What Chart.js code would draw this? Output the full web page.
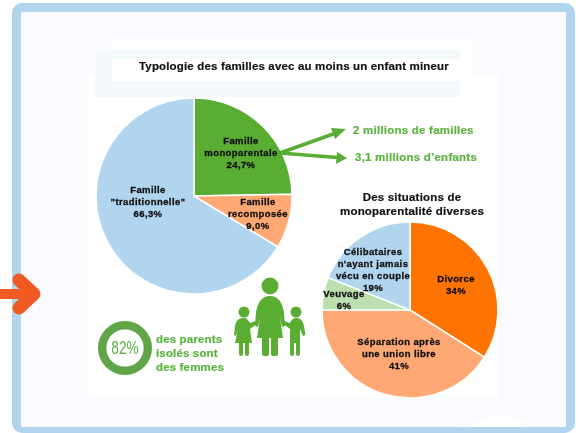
<!DOCTYPE html>
<html lang="fr">
<head>
<meta charset="utf-8">
<title>Typologie des familles</title>
<script src="https://cdn.jsdelivr.net/npm/chart.js@4"></script>
<style>
  html, body { margin: 0; padding: 0; background: #fff; }
  body { position: relative; width: 579px; height: 433px; overflow: hidden; font-family: "Liberation Sans", Arial, sans-serif; }
  #page { position: absolute; left: 0; top: 0; width: 579px; height: 433px; filter: blur(.4px); }
  .box { position: absolute; }
  #frame { left: 12px; top: 3px; width: 545px; height: 415px; border: 9px solid #b1d5ef; border-bottom-width: 6px; border-radius: 10px; background: #fafaff; }
  canvas { position: absolute; }
  #familyPie { left: 89px; top: 91px; }
  #situationPie { left: 314.5px; top: 214.5px; }
  svg { position: absolute; left: 0; top: 0; }
  .txt { position: absolute; font-weight: bold; white-space: nowrap; -webkit-text-stroke: .2px currentColor; }
  .green { color: #5ab33e; font-size: 11.5px; letter-spacing: .23px; }
  .head { color: #111; font-size: 11.5px; text-align: center; letter-spacing: .2px; }
</style>
</head>
<body>
<div id="page">
<div class="box" id="frame"></div>
<div class="box" style="left:88px;top:75px;width:410px;height:323px;background:#fff"></div>
<div class="box" style="left:113px;top:37px;width:360px;height:38px;background:#fff"></div>
<div class="box" style="left:95px;top:50px;width:365px;height:47px;background:#f4fafb"></div>
<div class="box" style="left:112px;top:59px;width:349px;height:22px;background:#fff"></div>

<canvas id="familyPie" width="210" height="210"></canvas>
<canvas id="situationPie" width="190" height="190"></canvas>

<svg width="579" height="433" viewBox="0 0 579 433">
  <!-- flèche orange à gauche -->
  <path d="M0 294H32" fill="none" stroke="#f15a22" stroke-width="10"/>
  <path d="M19 280L34 294L19 308" fill="none" stroke="#f15a22" stroke-width="13" stroke-linecap="round" stroke-linejoin="round"/>
  <!-- reflet en bas à droite -->
  <path d="M460 427Q490 415 500 415Q515 415 530 427Z" fill="#fff"/>
  <!-- flèches vertes -->
  <g stroke="#5aad33" stroke-width="3.5" fill="#5aad33">
    <line x1="280" y1="153" x2="336" y2="133"/>
    <line x1="280" y1="153" x2="337" y2="157.500"/>
    <polygon stroke="none" points="346,129 335,139 331,128"/>
    <polygon stroke="none" points="347,158 336,164 337,152"/>
  </g>
  <!-- anneau 82% -->
  <circle cx="125" cy="348" r="23" fill="#fff" stroke="#5fa646" stroke-width="8"/>
  <circle cx="125" cy="348" r="19" fill="none" stroke="#3f7d2c" stroke-width="1" opacity=".5"/>
  <!-- mère et enfants -->
  <g fill="#5aad33">
    <circle cx="270" cy="286" r="8.5"/>
    <path d="M270 296C262 296 258 302 256 312L255 326L258 327L260 318L257 338H262V354Q262 356 265.500 356Q269 356 269 354V338H271V354Q271 356 274.500 356Q278 356 278 354V338H283L280 318L282 327L285 326L284 312C282 302 278 296 270 296Z"/>
    <circle cx="244" cy="312" r="5.500"/>
    <path d="M244 318C239 318 236 320 235 326L234 335L236 336L238 329L235 343H239V354Q239 356 241 356Q243 356 243 354V343H245V354Q245 356 247 356Q249 356 249 354V343H252L250 329L258 323L256 321L250 323C248 320 247 318 244 318Z"/>
    <circle cx="296" cy="312" r="5.500"/>
    <path d="M296 318C293 318 291 320 290 323L284 321L282 323L290 329V354Q290 356 292 356Q294 356 294 354V343H296V354Q296 356 298 356Q300 356 300 354V329L303 336L305.500 335L304 326C303 320 300 318 296 318Z"/>
  </g>
</svg>

<div class="txt" style="left:139px;top:58.500px;font-size:11.5px;color:#111;line-height:14px;letter-spacing:.16px">Typologie des familles avec au moins un enfant mineur</div>
<div class="txt green" style="left:353px;top:124px">2 millions de familles</div>
<div class="txt green" style="left:355px;top:151px">3,1 millions d’enfants</div>
<div class="txt head" style="left:340px;top:190px;width:144px;line-height:14px">Des situations de<br>monoparentalité diverses</div>
<div class="txt green" style="left:156px;top:332px;line-height:14px;letter-spacing:.15px">des parents<br>isolés sont<br>des femmes</div>
<div class="txt" style="left:105px;top:338px;width:40px;text-align:center;font-size:19px;font-weight:normal;color:#5ab33e;transform:scaleX(.72);line-height:20px;-webkit-text-stroke:0">82%</div>

<script>
// Typologie des familles (%)
const familyLabels = [['Famille', 'monoparentale', '24,7%'], ['Famille', 'recomposée', '9,0%'], ['Famille', '"traditionnelle"', '66,3%']];
const familyValues = [24.7, 9.0, 66.3];
const familyColors = ['#5aad33', '#ffa873', '#b1d5ef'];

// Situations de monoparentalité (%)
const situationLabels = [['Divorce', '34%'], ['Séparation après', 'une union libre', '41%'], ['Veuvage', '6%'], ['Célibataires', "n'ayant jamais", 'vécu en couple', '19%']];
const situationValues = [34, 41, 6, 19];
const situationColors = ['#ff7300', '#ffa873', '#bcdfb0', '#b1d5ef'];

// ── Labels drawn inside the slices, offset from the pie centre ──
const sliceLabels = {
  id: 'sliceLabels',
  afterDatasetsDraw(chart, _args, opts) {
    const { ctx } = chart;
    const arcs = chart.getDatasetMeta(0).data;
    ctx.save();
    ctx.font = 'bold 9.5px "Liberation Sans", Arial, sans-serif';
    ctx.letterSpacing = '0.4px';
    ctx.fillStyle = '#111';
    ctx.strokeStyle = '#111';
    ctx.lineWidth = 0.3;
    ctx.textAlign = 'center';
    ctx.textBaseline = 'middle';
    arcs.forEach((arc, i) => {
      const lines = chart.data.labels[i];
      const [dx, dy] = opts.offsets[i];
      lines.forEach((line, n) => {
        const y = arc.y + dy + (n - (lines.length - 1) / 2) * opts.lineHeight;
        ctx.fillText(line, arc.x + dx, y);
        ctx.strokeText(line, arc.x + dx, y);
      });
    });
    ctx.restore();
  }
};

function renderPie(canvasId, labels, values, colors, radius, offsets) {
  return new Chart(document.getElementById(canvasId), {
    type: 'pie',
    data: {
      labels,
      datasets: [{
        data: values,
        backgroundColor: colors,
        borderColor: '#fff',
        borderWidth: 1.5,
        hoverOffset: 0,
      }]
    },
    options: {
      responsive: false,
      animation: false,
      radius,
      plugins: {
        legend: { display: false },
        tooltip: { enabled: false },
        sliceLabels: { offsets, lineHeight: 12 }
      }
    },
    plugins: [sliceLabels]
  });
}

renderPie('familyPie', familyLabels, familyValues, familyColors, 98, [[47, -43], [64, 18], [-46, 6]]);
renderPie('situationPie', situationLabels, situationValues, situationColors, 88, [[46, -25], [-11, 44], [-66, -10], [-37, -40]]);
</script>
</div>
</body>
</html>
